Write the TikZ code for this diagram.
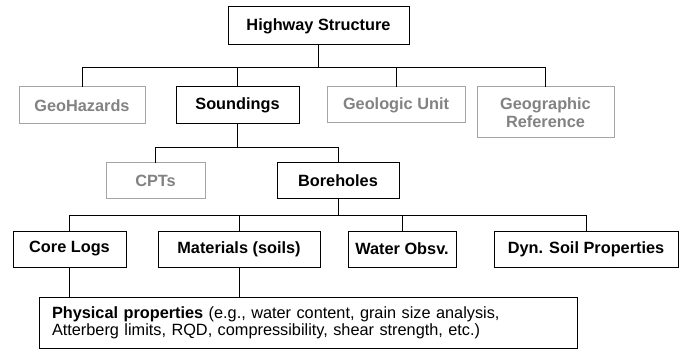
\documentclass[tikz,border=0pt]{standalone}
\usepackage{fontspec}
\setmainfont{Liberation Sans}
\definecolor{softtext}{RGB}{130,130,130}
\definecolor{softline}{RGB}{165,165,165}
\begin{document}
\begin{tikzpicture}[x=1pt,y=-1pt]
\useasboundingbox (0,0) rectangle (680,350);
\begin{scope}

\tikzstyle{entitynode} = [draw,line width=1pt,inner sep=0pt,outer sep=0pt,minimum height=37pt,font=\fontsize{16.3}{18.5}\selectfont\bfseries,align=center];
\tikzstyle{othernode} = [entitynode,draw=softline,text=softtext];
\tikzstyle{linkline} = [line width=1pt];

\node [entitynode,anchor=north west,minimum width=181pt,minimum height=38pt] (hwy) at (228,7) {Highway Structure};
\node [entitynode,anchor=north west,minimum width=123pt] (snd) at ([xshift=-52pt,yshift=-42pt]hwy.south west) {Soundings};
\node [othernode,anchor=north east,minimum width=126pt] (geo) at ([xshift=-31pt]snd.north west) {GeoHazards};
\node [othernode,anchor=north west,minimum width=138pt,minimum height=36pt] (unit) at ([xshift=28pt]snd.north east) {Geologic Unit};
\node [othernode,anchor=north west,minimum width=137pt,minimum height=51pt] (ref) at ([xshift=12pt]unit.north east) {Geographic\\Reference};

\node [entitynode,anchor=north west,minimum width=122pt,minimum height=35pt] (bore) at ([xshift=101pt,yshift=-39pt]snd.south west) {Boreholes};
\node [othernode,anchor=north east,minimum width=99pt,minimum height=35pt] (cpt) at ([xshift=-72pt]bore.north west) {CPTs};

\node [entitynode,anchor=north west,minimum width=113pt,minimum height=36pt] (core) at ([xshift=-264pt,yshift=-33pt]bore.south west) {Core Logs};
\node [entitynode,anchor=north west,minimum width=162pt,minimum height=36pt] (mat) at ([xshift=32pt]core.north east) {Materials (soils)};
\node [entitynode,anchor=north west,minimum width=108pt,minimum height=36pt] (water) at ([xshift=28pt]mat.north east) {Water Obsv.};
\node [entitynode,anchor=north west,minimum width=184pt,minimum height=36pt] (dyn) at ([xshift=38pt]water.north east) {Dyn. Soil Properties};

\node [draw,line width=1pt,outer sep=0pt,anchor=north west,text width=512pt,inner xsep=13pt,inner ysep=0pt,minimum height=51pt,align=left,font=\fontsize{16.3}{17}\selectfont] (phys) at ([xshift=26pt,yshift=-30pt]core.south west) {\textbf{Physical properties} (e.g., water content, grain size analysis,\\Atterberg limits, RQD, compressibility, shear strength, etc.)};

\coordinate (b1) at ([yshift=-23pt]hwy.south);
\coordinate (b2) at ([yshift=-24pt]snd.south);
\coordinate (b3) at ([yshift=-17pt]bore.south);

\draw [linkline] (hwy.south) -- (b1);
\draw [linkline] (geo.north) |- (b1);
\draw [linkline] (snd.north) |- (b1);
\draw [linkline] (unit.north) |- (b1);
\draw [linkline] (ref.north) |- (b1);

\draw [linkline] (snd.south) -- (b2);
\draw [linkline] (cpt.north) |- (b2);
\draw [linkline] (bore.north) |- (b2);

\draw [linkline] (bore.south) -- (b3);
\draw [linkline] (core.north) |- (b3);
\draw [linkline] (mat.north) |- (b3);
\draw [linkline] (water.north) |- (b3);
\draw [linkline] (dyn.north) |- (b3);

\draw [linkline] (core.south) -- (core.south |- phys.north);
\draw [linkline] (mat.south) -- (mat.south |- phys.north);

\end{scope}
\end{tikzpicture}
\end{document}
